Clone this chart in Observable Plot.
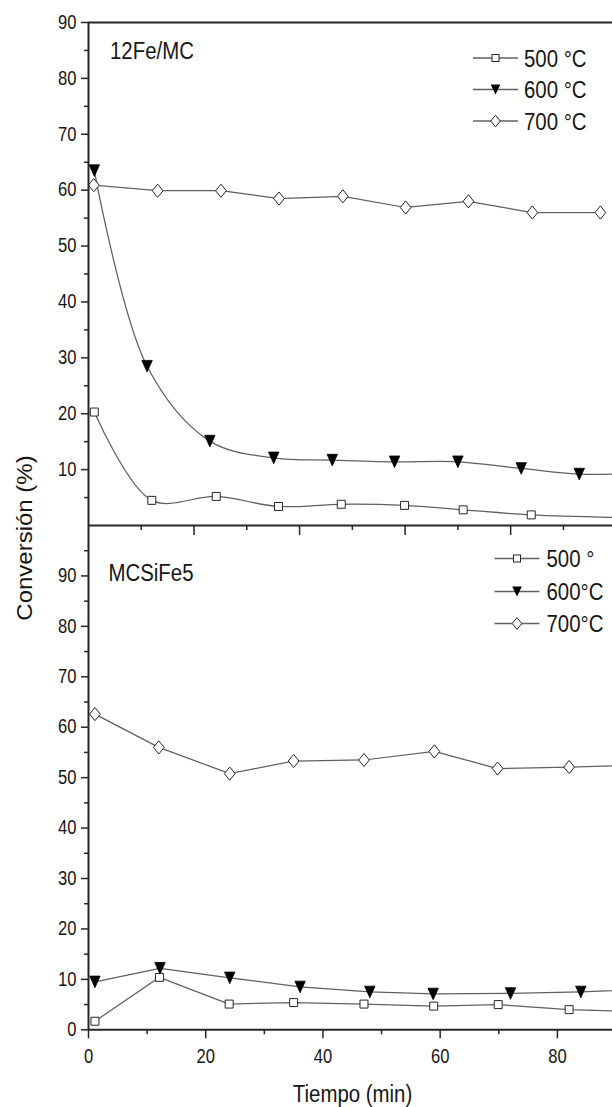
<!DOCTYPE html>
<html><head><meta charset="utf-8">
<script src="https://cdn.jsdelivr.net/npm/d3@7"></script>
<script src="https://cdn.jsdelivr.net/npm/@observablehq/plot@0.6"></script>
<style>
body{margin:0;background:#fff;}
#wrap{position:relative;width:612px;height:1107px;overflow:hidden;color:#161616;
  font-family:"Liberation Sans",Arial,sans-serif;}
#wrap svg{position:absolute;left:0;}
</style></head><body><div id="wrap"></div>
<script>
// ---------- data ----------
// Panel 1: 12Fe/MC (time in min, conversion in %)
const fe_t500 = [1.1, 12.0, 24.2, 36.0, 47.9, 59.9, 71.0, 83.9, 103];
const fe_v500 = [20.3, 4.5, 5.2, 3.4, 3.8, 3.6, 2.8, 1.9, 1.4];
const fe_t600 = [1.1, 11.1, 23.0, 35.1, 46.2, 58.0, 70.0, 82.0, 93.0, 105];
const fe_v600 = [63.5, 28.5, 15.1, 12.1, 11.7, 11.4, 11.4, 10.2, 9.2, 9.4];
const fe_t700 = [1.0, 13.1, 25.1, 36.1, 48.2, 60.1, 72.0, 84.1, 97.0];
const fe_v700 = [60.9, 59.9, 59.9, 58.5, 58.9, 56.9, 58.0, 56.0, 56.0];
// Panel 2: MCSiFe5
const si_t500 = [1.1, 12.1, 24.0, 35.0, 47.0, 58.9, 69.9, 82.0, 95];
const si_v500 = [1.7, 10.4, 5.1, 5.4, 5.1, 4.7, 5.0, 4.0, 3.6];
const si_t600 = [1.1, 12.2, 24.1, 36.1, 48.0, 58.8, 72.0, 84.0, 96];
const si_v600 = [9.5, 12.2, 10.3, 8.5, 7.5, 7.1, 7.2, 7.5, 8.1];
const si_t700 = [1.1, 12.0, 24.1, 35.0, 47.0, 59.0, 69.8, 82.0, 95];
const si_v700 = [62.6, 56.0, 50.8, 53.3, 53.5, 55.2, 51.8, 52.1, 52.5];

const panelNames = ["12Fe/MC", "MCSiFe5"];
const legendTop = ["500 °C", "600 °C", "700 °C"];
const legendBottom = ["500 °", "600°C", "700°C"];
const yTicksTop = [10, 20, 30, 40, 50, 60, 70, 80, 90];
const yTicksBottom = [0, 10, 20, 30, 40, 50, 60, 70, 80, 90];
const xTicksMajor = [0, 20, 40, 60, 80];
const xLabel = "Tiempo (min)";
const yLabel = "Conversión (%)";

// ---------- styling ----------
const FONT = '"Liberation Sans",Arial,sans-serif';
const SQ = 0.85;               // horizontal squeeze of the lettering
const ink = "#262626";
const lineColor = "#606060";

const tallDiamond = {draw(ctx, size){ const h = Math.sqrt(size)*0.70, w = h*0.82;
  ctx.moveTo(0,-h); ctx.lineTo(w,0); ctx.lineTo(0,h); ctx.lineTo(-w,0); ctx.closePath(); }};
const triDown = {draw(ctx, size){ const s = Math.sqrt(size), w = s*0.70, h = s*0.78;
  ctx.moveTo(-w,-h); ctx.lineTo(w,-h); ctx.lineTo(0,h); ctx.closePath(); }};

const rows = (t, v) => t.map((d, i) => ({t: d, v: v[i]}));

function series(d500, d600, d700, c500, c600, c700) {
  const L = {x: "t", y: "v", stroke: lineColor, strokeWidth: 1.25, clip: true};
  return [
    Plot.line(d700, {...L, curve: c700}),
    Plot.line(d600, {...L, curve: c600}),
    Plot.line(d500, {...L, curve: c500}),
    Plot.dot(d700, {x: "t", y: "v", symbol: tallDiamond, r: 5.3, fill: "white", stroke: ink, strokeWidth: 1, clip: true}),
    Plot.dot(d500, {x: "t", y: "v", symbol: "square", r: 4.5, fill: "white", stroke: ink, strokeWidth: 1, clip: true}),
    Plot.dot(d600, {x: "t", y: "v", symbol: triDown, r: 4.2, fill: "black", stroke: "black", strokeWidth: 0.8, clip: true})
  ];
}

// narrow the tick lettering like the source figure
function squeezeText(svg) {
  d3.select(svg).selectAll("text").each(function() {
    const t = this.getAttribute("transform");
    if (t) { this.setAttribute("transform", t + ` scale(${SQ},1)`); }
    else {
      const x = +this.getAttribute("x") || 0, y = +this.getAttribute("y") || 0;
      this.removeAttribute("x"); this.removeAttribute("y");
      this.setAttribute("transform", `translate(${x},${y}) scale(${SQ},1)`);
    }
  });
}

const wrap = document.getElementById("wrap");

// ---------- top panel ----------
const p1 = Plot.plot({
  width: 612, height: 545, marginLeft: 88, marginRight: 0, marginTop: 22, marginBottom: 20,
  x: {domain: [0, 99.3]},
  y: {domain: [0, 90]},
  style: {background: "transparent", fontFamily: FONT, overflow: "visible"},
  marks: [
    Plot.axisY({ticks: yTicksTop, tickSize: 7, tickPadding: 5, fontSize: 19.5, stroke: ink, strokeWidth: 1.5, label: null}),
    Plot.axisY({ticks: d3.range(5, 90, 10), tickSize: 4, tickFormat: () => "", stroke: ink, strokeWidth: 1.5, label: null}),
    Plot.axisX({ticks: [20, 40, 60, 80], tickSize: 10, tickFormat: () => "", stroke: ink, strokeWidth: 1.5, label: null}),
    Plot.axisX({ticks: [10, 30, 50, 70, 90], tickSize: 5, tickFormat: () => "", stroke: ink, strokeWidth: 1.5, label: null}),
    ...series(rows(fe_t500, fe_v500), rows(fe_t600, fe_v600), rows(fe_t700, fe_v700), "catmull-rom", "catmull-rom", "linear"),
    Plot.ruleY([90], {stroke: ink, strokeWidth: 2}),
    Plot.ruleY([0], {stroke: ink, strokeWidth: 2}),
    Plot.ruleX([0], {stroke: ink, strokeWidth: 2})
  ]
});
squeezeText(p1);
p1.style.top = "0px";
wrap.appendChild(p1);

// ---------- bottom panel ----------
const p2 = Plot.plot({
  width: 612, height: 582, marginLeft: 88, marginRight: 0, marginTop: 0, marginBottom: 77.7,
  x: {domain: [0, 89.4]},
  y: {domain: [0, 100]},
  style: {background: "transparent", fontFamily: FONT, overflow: "visible"},
  marks: [
    Plot.axisY({ticks: yTicksBottom, tickSize: 7, tickPadding: 5, fontSize: 19.5, stroke: ink, strokeWidth: 1.5, label: null}),
    Plot.axisY({ticks: d3.range(5, 100, 10), tickSize: 4, tickFormat: () => "", stroke: ink, strokeWidth: 1.5, label: null}),
    Plot.axisX({ticks: xTicksMajor, tickSize: 9, tickPadding: 10, fontSize: 19.5, stroke: ink, strokeWidth: 1.5, label: null}),
    Plot.axisX({ticks: [10, 30, 50, 70], tickSize: 5, tickFormat: () => "", stroke: ink, strokeWidth: 1.5, label: null}),
    ...series(rows(si_t500, si_v500), rows(si_t600, si_v600), rows(si_t700, si_v700), "linear", "linear", "linear"),
    Plot.ruleY([0], {stroke: ink, strokeWidth: 2}),
    Plot.ruleX([0], {stroke: ink, strokeWidth: 2})
  ]
});
squeezeText(p2);
p2.style.top = "525px";
wrap.appendChild(p2);

// ---------- overlay: legends, panel names, axis titles ----------
const ov = d3.create("svg").attr("width", 612).attr("height", 1107)
  .style("top", "0px").style("font-family", FONT).style("overflow", "visible");

function label(x, y, txt, size, anchor) {
  ov.append("text").attr("transform", `translate(${x},${y}) scale(${SQ},1)`)
    .attr("dy", "0.36em").attr("font-size", size).attr("text-anchor", anchor || "start")
    .attr("fill", "#161616").text(txt);
}

function legend(labels, ys, xl0, xl1, xm, xt) {
  const syms = ["square", "tri", "diamond"];
  labels.forEach((lab, i) => {
    const y = ys[i];
    ov.append("line").attr("x1", xl0).attr("x2", xl1).attr("y1", y).attr("y2", y)
      .attr("stroke", lineColor).attr("stroke-width", 1.3);
    const s = syms[i];
    if (s === "square") ov.append("rect").attr("x", xm - 3.5).attr("y", y - 3.5).attr("width", 7).attr("height", 7)
      .attr("fill", "white").attr("stroke", ink);
    else if (s === "tri") ov.append("path").attr("d", `M${xm-4.8},${y-5}L${xm+4.8},${y-5}L${xm},${y+5}Z`).attr("fill", "black");
    else ov.append("path").attr("d", `M${xm},${y-5.8}L${xm+4.8},${y}L${xm},${y+5.8}L${xm-4.8},${y}Z`)
      .attr("fill", "white").attr("stroke", ink);
    label(xt, y, lab, 24);
  });
}
legend(legendTop, [58, 89.5, 121], 473, 518, 495.5, 524);
legend(legendBottom, [558.5, 591.5, 623.5], 494.5, 539.5, 517, 546.5);

label(110, 50, panelNames[0], 24);
label(108.5, 572, panelNames[1], 24);
label(352.5, 1093, xLabel, 24, "middle");
ov.append("text").attr("transform", "translate(24,538) rotate(-90) scale(1,0.9)").attr("dy", "0.36em").attr("text-anchor", "middle")
  .attr("font-size", 24).attr("fill", "#161616").text(yLabel);
wrap.appendChild(ov.node());
</script>
</body></html>
